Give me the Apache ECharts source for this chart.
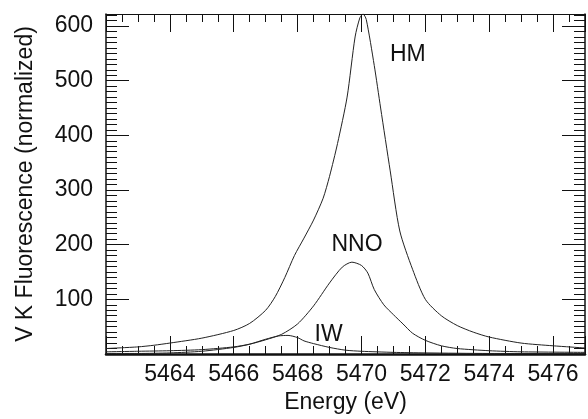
<!DOCTYPE html>
<html>
<head>
<meta charset="utf-8">
<script src="https://cdn.jsdelivr.net/npm/echarts@6/dist/echarts.min.js"></script>
<style>
html,body{margin:0;padding:0;background:#fff;}
#chart{width:588px;height:419px;}
</style>
</head>
<body>
<div id="chart"></div>
<script>
// ---- Data ----
const hmEnergy = [5462, 5463, 5463.5, 5464, 5465, 5466, 5466.5, 5467, 5467.3, 5467.6, 5467.9, 5468.2, 5468.5, 5468.8, 5469.0, 5469.25, 5469.55, 5469.8, 5469.95, 5470.05, 5470.15, 5470.4, 5470.6, 5470.9, 5471.2, 5471.6, 5472, 5472.5, 5473, 5473.5, 5474, 5475, 5476, 5477];
const hmValue  = [10, 13, 16, 20, 29, 43, 56, 80, 105, 140, 180, 212, 245, 285, 325, 385, 470, 580, 615, 622, 612, 528, 450, 335, 225, 155, 100, 70, 52, 40, 31, 20, 15, 11];

const nnoEnergy = [5462, 5463, 5464, 5465, 5466, 5466.5, 5467, 5467.5, 5468, 5468.5, 5469, 5469.4, 5469.7, 5470, 5470.2, 5470.4, 5470.7, 5471, 5471.3, 5471.6, 5472, 5472.5, 5473, 5474, 5475, 5477];
const nnoValue  = [4, 5, 6, 8, 13, 18, 26, 36, 55, 88, 130, 159, 168, 162, 148, 118, 90, 72, 55, 38, 25, 15, 10, 6, 4, 3];

const iwEnergy = [5462, 5463, 5464, 5465, 5466, 5466.5, 5467, 5467.4, 5467.7, 5468, 5468.2, 5468.5, 5469, 5469.5, 5470, 5471, 5472, 5474, 5477];
const iwValue  = [1, 1, 2, 5, 12, 18, 27, 33, 34, 30, 24, 19, 12, 7, 5, 3, 2, 1, 1];

const curveNames = ['HM', 'NNO', 'IW'];
const labelEnergy = [5471.45, 5469.86, 5468.97];
const labelValue  = [548, 200, 35];

const xMin = 5462, xMax = 5477, xMajor = 2, xMinor = 0.5;
const yMin = 0, yMax = 622, yMajor = 100, yMinor = 10;
const xTitle = 'Energy (eV)';
const yTitle = 'V K Fluorescence (normalized)';

// ---- Chart ----
const FONT = 'Liberation Sans, Arial, Helvetica, sans-serif';
const INK = '#111';
const pairs = (xs, ys) => xs.map((x, i) => [x, ys[i]]);
const curves = [pairs(hmEnergy, hmValue), pairs(nnoEnergy, nnoValue), pairs(iwEnergy, iwValue)];

function xAxisDef(pos, interval, tickLen, showLine, lineWidth, labels, name) {
  return {
    type: 'value', position: pos, min: xMin, max: xMax, interval: interval,
    name: name || '', nameLocation: 'middle', nameGap: 37,
    nameTextStyle: {fontFamily: FONT, fontSize: 23, color: INK},
    axisLine: {show: showLine, onZero: false, lineStyle: {color: INK, width: lineWidth}},
    axisTick: {show: true, inside: true, length: tickLen, lineStyle: {color: INK, width: 1}},
    axisLabel: labels ? {
      show: true, margin: 9, fontFamily: FONT, fontSize: 23, color: INK,
      formatter: v => (v === xMin || v === xMax) ? '' : String(v)
    } : {show: false},
    splitLine: {show: false}
  };
}
function yAxisDef(pos, interval, tickLen, showLine, lineWidth, labels, name) {
  return {
    type: 'value', position: pos, min: yMin, max: yMax, interval: interval,
    name: name || '', nameLocation: 'middle', nameGap: 69,
    nameTextStyle: {fontFamily: FONT, fontSize: 23, color: INK},
    axisLine: {show: showLine, onZero: false, lineStyle: {color: INK, width: lineWidth}},
    axisTick: {show: true, inside: true, length: tickLen, lineStyle: {color: INK, width: 1}},
    axisLabel: labels ? {
      show: true, margin: 13, fontFamily: FONT, fontSize: 23, color: INK,
      formatter: v => (v === yMin || v === yMax) ? '' : String(v)
    } : {show: false},
    splitLine: {show: false}
  };
}

const series = curves.map((d, i) => ({
  type: 'line', name: curveNames[i], data: d, xAxisIndex: 0, yAxisIndex: 0,
  showSymbol: false, symbol: 'none', smooth: 0.25, clip: true,
  lineStyle: {color: '#222', width: 1},
  markPoint: {
    symbol: 'circle', symbolSize: 0, silent: true,
    label: {show: true, position: 'inside', formatter: curveNames[i], fontFamily: FONT, fontSize: 23, color: INK},
    data: [{coord: [labelEnergy[i], labelValue[i]]}]
  }
}));

const chart = echarts.init(document.getElementById('chart'), null, {renderer: 'canvas'});
chart.setOption({
  animation: false,
  backgroundColor: '#fff',
  grid: {left: 106, top: 14, right: -4, bottom: 63.5, containLabel: false},
  xAxis: [
    xAxisDef('bottom', xMajor, 18, true, 2.5, true, xTitle),
    xAxisDef('bottom', xMinor, 8, false, 1, false),
    xAxisDef('top', xMajor, 18, true, 1, false),
    xAxisDef('top', xMinor, 8, false, 1, false)
  ],
  yAxis: [
    yAxisDef('left', yMajor, 23, true, 1.5, true, yTitle),
    yAxisDef('left', yMinor, 11, false, 1, false),
    yAxisDef('right', yMajor, 23, true, 1.5, false),
    yAxisDef('right', yMinor, 11, false, 1, false)
  ],
  series: series
});
</script>
</body>
</html>
